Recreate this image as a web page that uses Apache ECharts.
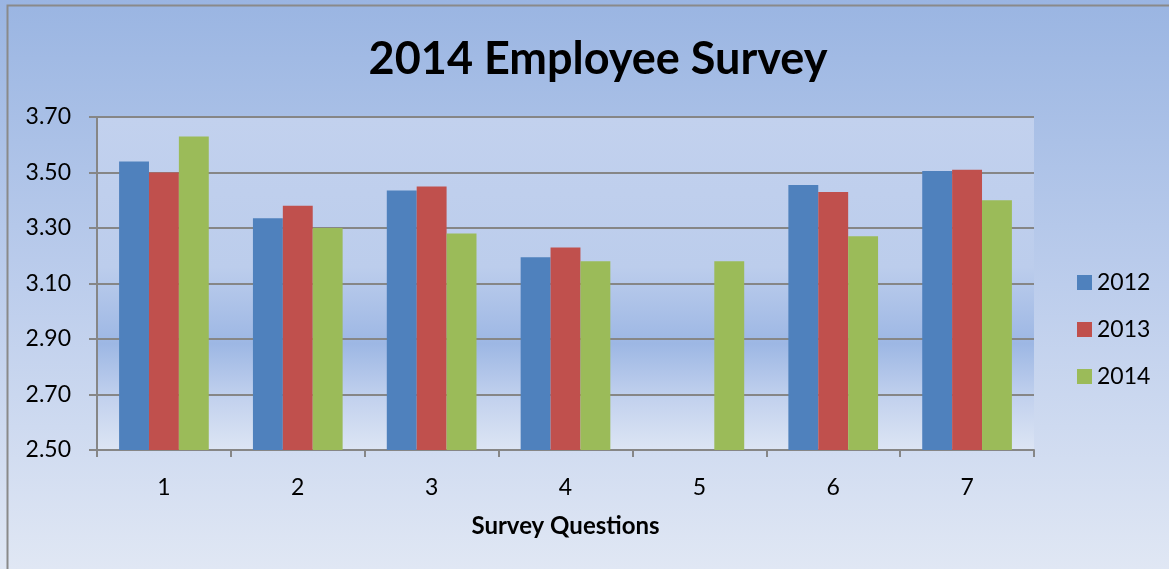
<!DOCTYPE html>
<html><head><meta charset="utf-8">
<script src="https://cdn.jsdelivr.net/npm/echarts@6/dist/echarts.min.js"></script>
<style>html,body{margin:0;padding:0;}#c{width:1169px;height:569px;}</style>
</head><body><div id="c"></div>
<script>
const categories = ['1','2','3','4','5','6','7'];
const s2012 = [3.54, 3.335, 3.435, 3.195, null, 3.455, 3.505];
const s2013 = [3.50, 3.38, 3.45, 3.23, null, 3.43, 3.51];
const s2014 = [3.63, 3.30, 3.28, 3.18, 3.18, 3.27, 3.40];
const seriesNames = ['2012','2013','2014'];
const colors = ['#4f81bd','#c0504d','#9bbb59'];
const font = 'Lato, "Open Sans", sans-serif';

const chart = echarts.init(document.getElementById('c'));
const grad = (stops) => new echarts.graphic.LinearGradient(0,0,0,1, stops);
chart.setOption({
  backgroundColor: grad([{offset:0,color:'#9ab5e2'},{offset:0.5,color:'#bccdec'},{offset:1,color:'#e0e7f4'}]),
  animation:false,
  title:{text:'2014 Employee Survey', left:593, top:32, textAlign:'center',
    textStyle:{fontFamily:font, fontWeight:'bold', fontSize:45, color:'#000'}},
  graphic:[{type:'rect', shape:{x:7.5,y:5.5,width:1200,height:600}, style:{fill:'none', stroke:'#8a8a8a', lineWidth:2}, silent:true}],
  legend:{orient:'vertical', left:1072, top:266, itemGap:24, itemWidth:15, itemHeight:15,
    icon:'rect', textStyle:{fontFamily:font, fontSize:23, color:'#000'},
    data:seriesNames},
  grid:{left:97, right:135, top:117, bottom:119, show:true, borderWidth:0,
    backgroundColor: grad([{offset:0,color:'#c2d1ee'},{offset:0.45,color:'#bccdec'},{offset:0.68,color:'#9db7e4'},{offset:0.85,color:'#c3d2ee'},{offset:1,color:'#dce5f4'}])},
  xAxis:{type:'category', data:categories, name:'Survey Questions', nameLocation:'middle', nameGap:64,
    nameTextStyle:{fontFamily:font, fontWeight:'bold', fontSize:24, color:'#000'},
    axisLine:{lineStyle:{color:'#868686', width:2}},
    axisTick:{show:true, length:7, lineStyle:{color:'#868686', width:2}},
    axisLabel:{fontFamily:font, fontSize:23, color:'#000', margin:26}},
  yAxis:{type:'value', min:2.5, max:3.7, interval:0.2,
    axisLine:{show:true, lineStyle:{color:'#868686', width:2}},
    axisTick:{show:true, length:8, lineStyle:{color:'#868686', width:2}},
    axisLabel:{fontFamily:font, fontSize:23, color:'#000', margin:26, formatter:v=>v.toFixed(2)},
    splitLine:{lineStyle:{color:'#868686', width:2}}},
  series:[s2012,s2013,s2014].map((d,i)=>({
    name:seriesNames[i], type:'bar', data:d, barGap:'0%', barCategoryGap:'33%',
    itemStyle:{color:colors[i]}
  }))
});
</script></body></html>
